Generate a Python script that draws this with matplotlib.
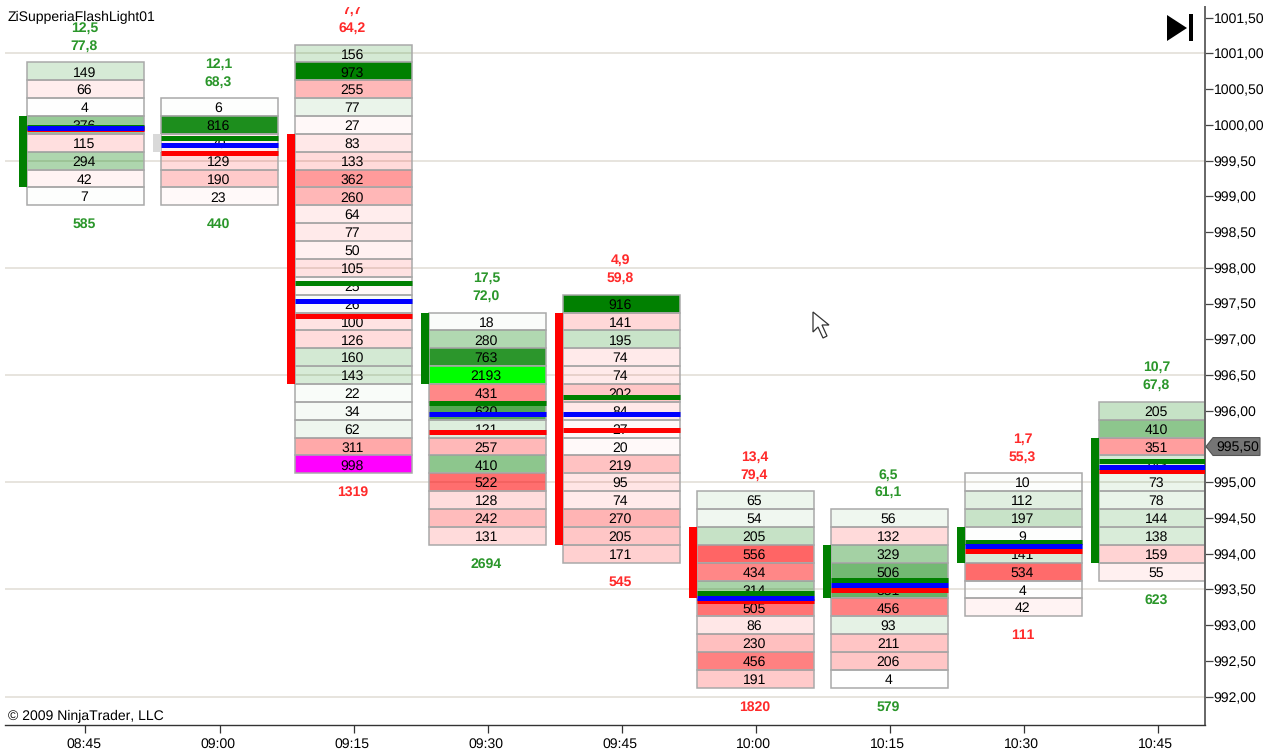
import matplotlib
matplotlib.use('Agg')
import matplotlib.pyplot as plt
from matplotlib.patches import Polygon, Rectangle
from matplotlib.colors import to_rgba
from matplotlib.transforms import ScaledTranslation

plt.rcParams['font.family'] = ['Liberation Sans', 'DejaVu Sans']
plt.rcParams['text.hinting'] = 'no_hinting'
plt.rcParams['text.hinting_factor'] = 1

times = ['08:45', '09:00', '09:15', '09:30', '09:45', '10:00', '10:15', '10:30', '10:45']

# price of the top row in each column
top_price = [1000.75, 1000.25, 1001.00, 997.25, 997.50, 994.75, 994.50, 995.00, 996.00]

# volume per price row, top to bottom
vol_0845 = [149, 66, 4, 376, 115, 294, 42, 7]
vol_0900 = [6, 816, 70, 129, 190, 23]
vol_0915 = [156, 973, 255, 77, 27, 83, 133, 362, 260, 64, 77, 50, 105, 25, 26, 100, 126, 160, 143, 22, 34, 62, 311, 998]
vol_0930 = [18, 280, 763, 2193, 431, 620, 121, 257, 410, 522, 128, 242, 131]
vol_0945 = [916, 141, 195, 74, 74, 202, 84, 27, 20, 219, 95, 74, 270, 205, 171]
vol_1000 = [65, 54, 205, 556, 434, 314, 505, 86, 230, 456, 191]
vol_1015 = [56, 132, 329, 506, 551, 456, 93, 211, 206, 4]
vol_1030 = [10, 112, 197, 9, 141, 534, 4, 42]
vol_1045 = [205, 410, 351, 143, 73, 78, 144, 138, 159, 55]
volumes = [vol_0845, vol_0900, vol_0915, vol_0930, vol_0945, vol_1000, vol_1015, vol_1030, vol_1045]

# g = green row, r = red row, L = lime, M = magenta
side_0845 = 'grggrgrg'
side_0900 = 'ggrrrr'
side_0915 = 'ggrgrrrrrrrrrrgrrggggg' + 'rM'
side_0930 = 'gggLrggrgrrrr'
side_0945 = 'grgrrrrrrrrrrrr'
side_1000 = 'gggrrgrrrrr'
side_1015 = 'grgggrgrrg'
side_1030 = 'ggggg' + 'rgr'
side_1045 = 'ggrggggg' + 'rr'
sides = [side_0845, side_0900, side_0915, side_0930, side_0945, side_1000, side_1015, side_1030, side_1045]

# stats printed above and below each column
stat_top = ['12,5', '12,1', '7,7', '17,5', '4,9', '13,4', '6,5', '1,7', '10,7']
stat_mid = ['77,8', '68,3', '64,2', '72,0', '59,8', '79,4', '61,1', '55,3', '67,8']
stat_bottom = ['585', '440', '1319', '2694', '545', '1820', '579', '111', '623']
stat_side = 'ggrgrrgrg'

# open/close bar on the left of each column
body_high = [1000.125, 999.875, 999.875, 997.375, 997.375, 994.375, 994.125, 994.375, 995.625]
body_low = [999.125, 999.625, 996.375, 996.375, 994.125, 993.375, 993.375, 993.875, 993.875]
body_side = 'gxrgrrggg'

# horizontal marker lines
green_level = [999.97, 999.82, 997.79, 996.11, 996.20, 993.45, 993.63, 994.17, 995.30]
blue_level = [999.96, 999.72, 997.54, 995.95, 995.95, 993.38, 993.56, 994.11, 995.22]
red_level = [999.94, 999.61, 997.33, 995.71, 995.73, 993.34, 993.49, 994.04, 995.16]

last_price = 995.50
price_ticks = [992.0 + 0.5 * i for i in range(20)]
grid_prices = [992.0, 993.5, 995.0, 996.5, 998.0, 999.5, 1001.0]

W, H = 1274, 751
ROW = 0.25
HALF = 0.4366
BAR = 0.06
GREEN = '#008000'
RED = '#ff0000'
EDGE = '#a9a9a9'


def cell_color(vol, side):
    if side == 'L':
        return to_rgba('#00ff00')
    if side == 'M':
        return to_rgba('#ff00ff')
    base = GREEN if side == 'g' else RED
    return to_rgba(base, min(1.0, vol / 920))


fig = plt.figure(figsize=(W / 100, H / 100), dpi=100, facecolor='white')
ax = fig.add_axes([5 / W, 1 - 725 / H, 1200 / W, 718 / H])
ax.set_xlim(-0.6007, 8.354)
ax.set_ylim(991.604, 1001.65)

# cell text sits a pixel left of the column centre
shift = ax.transData + ScaledTranslation(-1.2 / 100, 0, fig.dpi_scale_trans)

for p in grid_prices:
    ax.axhline(p, color='#e0dcd5', lw=1.1, zorder=1)

for i, vols in enumerate(volumes):
    prices = [top_price[i] - ROW * k for k in range(len(vols))]
    colors = [cell_color(v, s) for v, s in zip(vols, sides[i])]
    ax.barh(prices, [2 * HALF] * len(vols), height=ROW, left=i - HALF, color=colors,
            edgecolor=EDGE, linewidth=1.1, zorder=2)
    for p, v in zip(prices, vols):
        ax.text(i, p, str(v), ha='center', va='center_baseline', fontsize=10, color='black',
                transform=shift, zorder=3)

    col = '#ff2a2a' if stat_side[i] == 'r' else '#2a962a'
    ax.text(i, top_price[i] + 2.5 * ROW, stat_top[i], color=col, fontweight='bold', fontsize=10,
            ha='center', va='center_baseline', transform=shift, clip_on=True, zorder=4)
    ax.text(i, top_price[i] + 1.5 * ROW, stat_mid[i], color=col, fontweight='bold', fontsize=10,
            ha='center', va='center_baseline', transform=shift, clip_on=True, zorder=4)
    ax.text(i, prices[-1] - 1.5 * ROW, stat_bottom[i], color=col, fontweight='bold', fontsize=10,
            ha='center', va='center_baseline', transform=shift, zorder=4)

    body_col = {'g': GREEN, 'r': RED, 'x': '#d9d9d9'}[body_side[i]]
    ax.bar(i - HALF - BAR / 2, body_high[i] - body_low[i], width=BAR, bottom=body_low[i],
           color=body_col, zorder=5)

    ax.hlines(green_level[i], i - HALF, i + HALF, color=GREEN, lw=3.6, capstyle='butt', zorder=5)
    ax.hlines(red_level[i], i - HALF, i + HALF, color=RED, lw=3.6, capstyle='butt', zorder=6)
    ax.hlines(blue_level[i], i - HALF, i + HALF, color='#0000ff', lw=3.6, capstyle='butt', zorder=7)

for s in ['top', 'left']:
    ax.spines[s].set_visible(False)
ax.spines['right'].set_color('#666666')
ax.spines['right'].set_linewidth(1.4)
ax.spines['bottom'].set_color('#333333')
ax.spines['bottom'].set_linewidth(1.0)

ax.yaxis.tick_right()
ax.set_yticks(price_ticks)
# the flag carries the label of the last price
ax.set_yticklabels(['' if p == last_price else f'{p:.2f}'.replace('.', ',') for p in price_ticks], fontsize=10)
ax.tick_params(axis='y', length=5.8, width=0.9, color='#444444', pad=0.5)
ax.set_xticks(range(len(times)))
ax.set_xticklabels(times, fontsize=10)
ax.tick_params(axis='x', length=5.8, width=0.9, color='#333333', pad=3.5)
for lab in ax.get_xticklabels():
    lab.set_transform(lab.get_transform() + ScaledTranslation(-2 / 100, 0, fig.dpi_scale_trans))

# flag with the last price
flag_t = ax.get_yaxis_transform()
dx = 1 / 1200
ax.add_patch(Polygon([(1 + dx, last_price), (1 + 8 * dx, last_price + ROW / 2), (1 + 55 * dx, last_price + ROW / 2),
                      (1 + 55 * dx, last_price - ROW / 2), (1 + 8 * dx, last_price - ROW / 2)],
                     closed=True, transform=flag_t, clip_on=False, facecolor='#757575', edgecolor='#555555',
                     linewidth=0.8, zorder=8))
ax.text(1 + 33 * dx, last_price, '995,50', transform=flag_t, ha='center', va='center_baseline',
        fontsize=10, color='black', clip_on=False, zorder=9)

ax.text(8 / W, 1 - 17 / H, 'ZiSupperiaFlashLight01', transform=fig.transFigure, fontsize=9.9,
        ha='left', va='center', zorder=10)
ax.text(8 / W, 1 - 716 / H, '\u00a9 2009 NinjaTrader, LLC', transform=fig.transFigure, fontsize=10,
        ha='left', va='center', zorder=10)


def px(x, y):
    return (x / W, 1 - y / H)


# play-to-end button
fig.add_artist(Polygon([px(1167, 15), px(1187, 28), px(1167, 41)], closed=True, transform=fig.transFigure,
                       facecolor='black', edgecolor='none'))
fig.add_artist(Rectangle(px(1189, 41), 4 / W, 27 / H, transform=fig.transFigure, facecolor='black', edgecolor='none'))

# mouse pointer
pointer = [(813, 312), (813, 332), (818, 327), (823, 338), (827, 336), (822, 325), (829, 325)]
fig.add_artist(Polygon([px(x, y) for x, y in pointer], closed=True, transform=fig.transFigure,
                       facecolor='white', edgecolor='#333333', linewidth=0.9))

fig.savefig('out.png', dpi=100)
